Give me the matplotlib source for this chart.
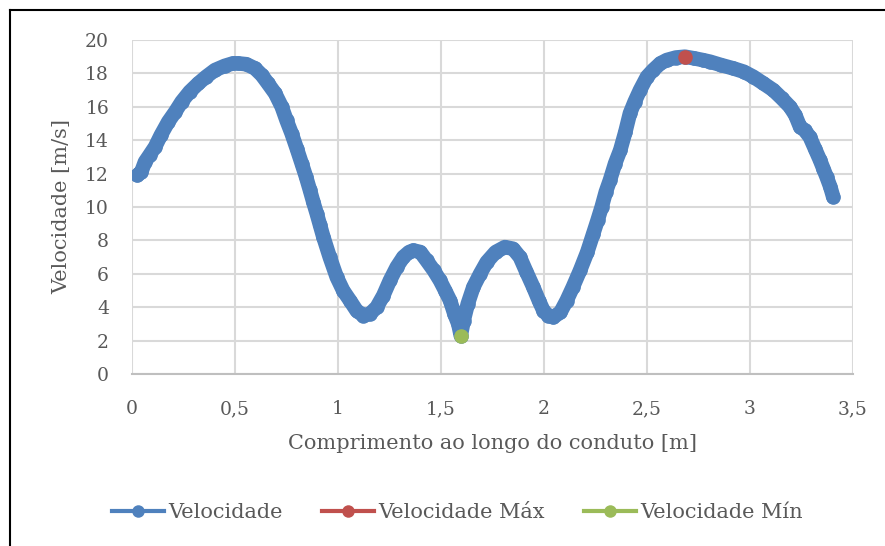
import matplotlib
matplotlib.use("Agg")
import matplotlib.pyplot as plt
from matplotlib.lines import Line2D

# Velocity profile along the duct
comprimento = [0.026, 0.045, 0.063, 0.085, 0.112, 0.14, 0.176, 0.21, 0.241, 0.28,
               0.322, 0.36, 0.403, 0.45, 0.49, 0.516, 0.555, 0.597, 0.63, 0.66,
               0.695, 0.727, 0.75, 0.775, 0.80, 0.824, 0.845, 0.864, 0.88, 0.897,
               0.913, 0.929, 0.96, 0.994, 1.025, 1.058, 1.09, 1.123, 1.155, 1.188,
               1.22, 1.252, 1.285, 1.317, 1.345, 1.366, 1.40, 1.430, 1.465, 1.495,
               1.52, 1.544, 1.565, 1.584, 1.596, 1.61, 1.63, 1.657, 1.69, 1.722,
               1.765, 1.81, 1.85, 1.883, 1.915, 1.948, 1.975, 1.997, 2.02, 2.045,
               2.08, 2.11, 2.14, 2.175, 2.21, 2.239, 2.26, 2.28, 2.30, 2.32,
               2.345, 2.37, 2.395, 2.417, 2.44, 2.466, 2.50, 2.53, 2.565, 2.596,
               2.64, 2.684, 2.73, 2.77, 2.806, 2.86, 2.919, 2.97, 3.016, 3.065,
               3.113, 3.155, 3.194, 3.22, 3.243, 3.265, 3.29, 3.315, 3.34, 3.356,
               3.372, 3.39, 3.404]
velocidade = [11.9, 12.1, 12.7, 13.1, 13.6, 14.3, 15.1, 15.7, 16.3, 16.9,
              17.4, 17.8, 18.2, 18.45, 18.6, 18.6, 18.55, 18.3, 17.9, 17.4,
              16.8, 16.0, 15.2, 14.4, 13.5, 12.6, 11.8, 11.0, 10.3, 9.6,
              8.9, 8.2, 7.0, 5.8, 5.0, 4.4, 3.8, 3.5, 3.6, 4.0,
              4.7, 5.6, 6.4, 7.0, 7.3, 7.4, 7.3, 6.8, 6.2, 5.6,
              5.0, 4.4, 3.6, 3.0, 2.3, 3.2, 4.2, 5.2, 6.0, 6.7,
              7.3, 7.6, 7.5, 7.0, 6.1, 5.2, 4.4, 3.8, 3.5, 3.4,
              3.7, 4.4, 5.2, 6.2, 7.3, 8.4, 9.2, 10.0, 10.9, 11.6,
              12.6, 13.4, 14.5, 15.6, 16.3, 17.0, 17.8, 18.2, 18.6, 18.8,
              18.95, 19.0, 18.9, 18.8, 18.7, 18.5, 18.3, 18.1, 17.8, 17.4,
              17.0, 16.5, 16.0, 15.5, 14.8, 14.6, 14.2, 13.5, 12.8, 12.3,
              11.8, 11.2, 10.6]

x_max = [2.684]
v_max = [19.0]
x_min = [1.596]
v_min = [2.3]

x_ticks = [0, 0.5, 1, 1.5, 2, 2.5, 3, 3.5]
x_tick_labels = ["0", "0,5", "1", "1,5", "2", "2,5", "3", "3,5"]
y_ticks = [0, 2, 4, 6, 8, 10, 12, 14, 16, 18, 20]

BLUE = "#4F81BD"
RED = "#C0504D"
GREEN = "#9BBB59"
TEXT = "#595959"
GRID = "#D9D9D9"

plt.rcParams["font.family"] = ["DejaVu Serif"]

fig = plt.figure(figsize=(8.85, 5.46), dpi=100)
ax = fig.add_axes([132 / 885, (546 - 374) / 546, (853 - 132) / 885, (374 - 40) / 546])

ms = 10.5
ax.plot(comprimento, velocidade, color=BLUE, lw=10.5, marker="o", ms=ms,
        markeredgewidth=0, solid_capstyle="round", solid_joinstyle="round", zorder=3)
ax.plot(x_max, v_max, color=RED, lw=0, marker="o", ms=ms, markeredgewidth=0, zorder=4)
ax.plot(x_min, v_min, color=GREEN, lw=0, marker="o", ms=ms, markeredgewidth=0, zorder=4)

ax.set_xlim(0, 3.5)
ax.set_ylim(0, 20)
ax.set_xticks(x_ticks)
ax.set_xticklabels(x_tick_labels)
ax.set_yticks(y_ticks)
ax.grid(True, color=GRID, lw=1.5)
ax.set_axisbelow(True)
for side in ["top", "right", "left"]:
    ax.spines[side].set_visible(False)
ax.spines["bottom"].set_color("#BFBFBF")
ax.spines["bottom"].set_linewidth(1.5)
ax.tick_params(length=0, labelsize=13.5, colors=TEXT)
ax.tick_params(axis="x", pad=19)
ax.tick_params(axis="y", pad=16.5)

ax.set_xlabel("Comprimento ao longo do conduto [m]", fontsize=15, color=TEXT, labelpad=11)
ax.set_ylabel("Velocidade [m/s]", fontsize=15, color=TEXT, labelpad=10)

handles = [
    Line2D([], [], color=BLUE, lw=3, marker="o", ms=9, markeredgewidth=0),
    Line2D([], [], color=RED, lw=3, marker="o", ms=9, markeredgewidth=0),
    Line2D([], [], color=GREEN, lw=3, marker="o", ms=9, markeredgewidth=0),
]
fig.legend(handles, ["Velocidade", "Velocidade Máx", "Velocidade Mín"],
           loc="center", bbox_to_anchor=(0.5 + 15 / 885, (546 - 513) / 546), ncol=3,
           frameon=False, fontsize=15, labelcolor=TEXT, handlelength=2.5,
           handletextpad=0.2, columnspacing=1.9)

# Chart frame edges
fig.add_artist(Line2D([10 / 885, 10 / 885], [0, 1 - 10 / 546], color="black", lw=1.5,
                      transform=fig.transFigure))
fig.add_artist(Line2D([10 / 885, 1], [1 - 10 / 546, 1 - 10 / 546], color="black", lw=1.5,
                      transform=fig.transFigure))

fig.savefig("out.png", dpi=100)
